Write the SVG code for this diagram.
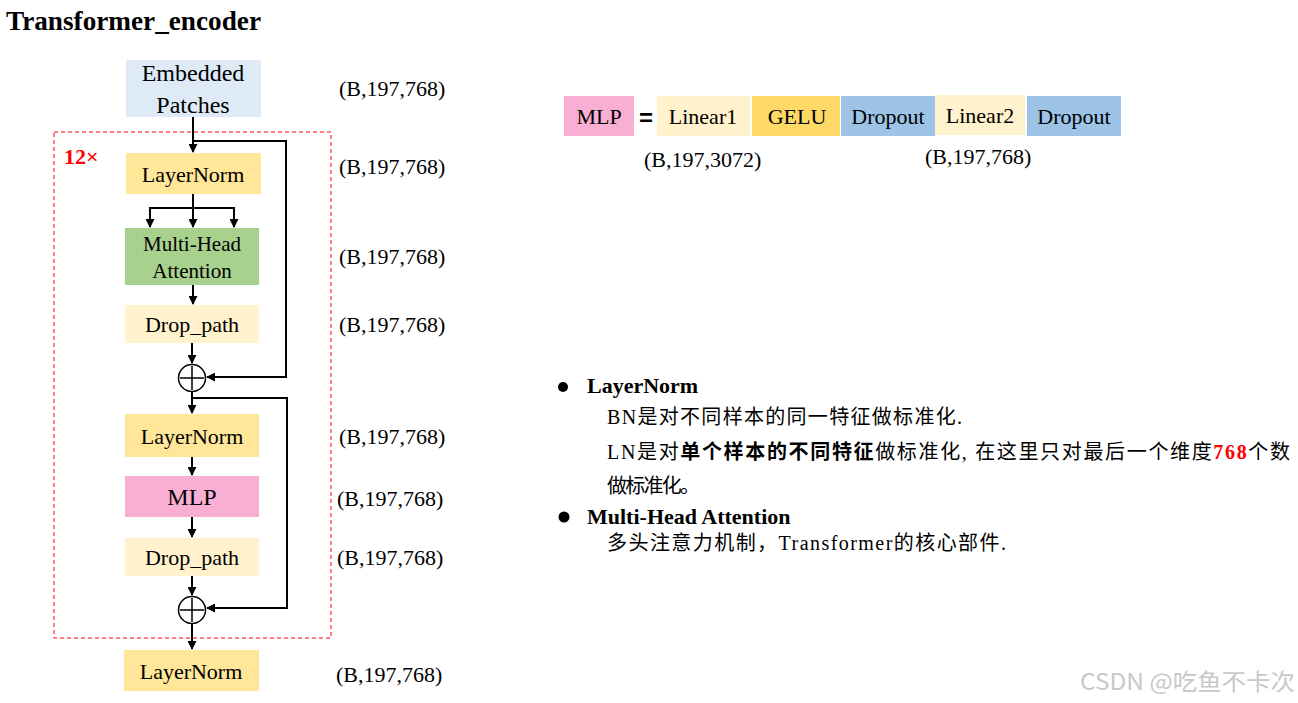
<svg xmlns="http://www.w3.org/2000/svg" width="1298" height="703" viewBox="0 0 1298 703">
<defs>
<marker id="ah" viewBox="0 0 10 10" refX="9" refY="5" markerWidth="4.5" markerHeight="4.5" orient="auto" markerUnits="strokeWidth">
<path d="M0,0 L10,5 L0,10 z" fill="#000"/>
</marker>
<style>
.t{font-family:"Liberation Serif","Times New Roman",serif;font-size:22px;fill:#000}
.c{text-anchor:middle}
.b{font-weight:bold}
.cn{font-family:"Liberation Serif","Noto Sans CJK SC",serif;font-size:20px;fill:#000}
.ln{fill:none;stroke:#000;stroke-width:2}
.ar{fill:none;stroke:#000;stroke-width:2;marker-end:url(#ah)}
</style>
</defs>
<rect width="1298" height="703" fill="#fff"/>
<text class="t b" x="6" y="30" style="font-size:27px" textLength="255" lengthAdjust="spacingAndGlyphs">Transformer_encoder</text>

<rect x="54" y="132" width="277" height="506" fill="none" stroke="#f00" stroke-width="1" stroke-dasharray="4,3"/>
<text class="t b" x="64" y="164" style="font-size:22px;fill:#f00">12×</text>

<g id="embedded"><rect x="126" y="60" width="135" height="57" fill="#DEEBF7"/>
<text class="t c" x="193" y="81" style="font-size:24px">Embedded</text><text class="t c" x="193" y="113" style="font-size:24px">Patches</text></g>
<g id="ln1"><rect x="126" y="153" width="135" height="41" fill="#FFE699"/><text class="t c" x="193" y="182">LayerNorm</text></g>
<g id="mha"><rect x="125" y="228" width="134" height="57" fill="#A9D18E"/>
<text class="t c" x="192" y="251" style="font-size:21px">Multi-Head</text><text class="t c" x="192" y="278" style="font-size:21px">Attention</text></g>
<g id="drop1"><rect x="125" y="305" width="134" height="38" fill="#FFF2CC"/><text class="t c" x="192" y="332">Drop_path</text></g>
<g id="add1"><circle cx="192" cy="378" r="13.5" fill="#fff" stroke="#000" stroke-width="1.5"/><path d="M180,378 H204 M192,366 V390" stroke="#000" stroke-width="1.5"/></g>
<g id="ln2"><rect x="125" y="414" width="134" height="43" fill="#FFE699"/><text class="t c" x="192" y="444">LayerNorm</text></g>
<g id="mlp"><rect x="125" y="476" width="134" height="41" fill="#F9AFD3"/><text class="t c" x="192" y="505" style="font-size:24px">MLP</text></g>
<g id="drop2"><rect x="125" y="538" width="134" height="38" fill="#FFF2CC"/><text class="t c" x="192" y="565">Drop_path</text></g>
<g id="add2"><circle cx="192" cy="610" r="13.5" fill="#fff" stroke="#000" stroke-width="1.5"/><path d="M180,610 H204 M192,598 V622" stroke="#000" stroke-width="1.5"/></g>
<g id="ln3"><rect x="124" y="650" width="135" height="41" fill="#FFE699"/><text class="t c" x="191" y="679">LayerNorm</text></g>

<g id="connectors">
<line class="ar" x1="193" y1="117" x2="193" y2="152"/>
<polyline class="ar" points="193,141 286,141 286,377 207,377"/>
<line class="ln" x1="193" y1="194" x2="193" y2="208"/>
<line class="ln" x1="149" y1="208" x2="235" y2="208"/>
<line class="ar" x1="150" y1="207" x2="150" y2="227"/>
<line class="ar" x1="193" y1="207" x2="193" y2="227"/>
<line class="ar" x1="234" y1="207" x2="234" y2="227"/>
<line class="ar" x1="193" y1="285" x2="193" y2="304"/>
<line class="ar" x1="192" y1="343" x2="192" y2="363"/>
<line class="ar" x1="192" y1="391.5" x2="192" y2="413"/>
<polyline class="ar" points="192,398 287,398 287,608 207,608"/>
<line class="ar" x1="192" y1="457" x2="192" y2="475"/>
<line class="ar" x1="192" y1="517" x2="192" y2="537"/>
<line class="ar" x1="192" y1="576" x2="192" y2="595"/>
<line class="ar" x1="192" y1="623.5" x2="192" y2="649"/>
</g>

<g id="shapes">
<text class="t" x="339" y="96">(B,197,768)</text>
<text class="t" x="339" y="174">(B,197,768)</text>
<text class="t" x="339" y="264">(B,197,768)</text>
<text class="t" x="339" y="332">(B,197,768)</text>
<text class="t" x="339" y="444">(B,197,768)</text>
<text class="t" x="337" y="506">(B,197,768)</text>
<text class="t" x="337" y="565">(B,197,768)</text>
<text class="t" x="336" y="682">(B,197,768)</text>
</g>

<g id="mlp-def">
<rect x="564" y="96" width="70" height="40" fill="#F9AFD3"/><text class="t c" x="599" y="124">MLP</text>
<text x="646" y="126" style="font-family:'Liberation Sans',Arial,sans-serif;font-weight:bold;font-size:24px" text-anchor="middle">=</text>
<rect x="657" y="96" width="93" height="40" fill="#FFF2CC"/><text class="t c" x="703" y="124">Linear1</text>
<rect x="752" y="96" width="88" height="40" fill="#FFD966"/><text class="t c" x="797" y="124">GELU</text>
<rect x="841" y="96" width="94" height="40" fill="#9DC3E6"/><text class="t c" x="888" y="124">Dropout</text>
<rect x="935" y="95" width="90" height="40" fill="#FFF2CC"/><text class="t c" x="980" y="123">Linear2</text>
<rect x="1027" y="96" width="94" height="40" fill="#9DC3E6"/><text class="t c" x="1074" y="124">Dropout</text>
<text class="t" x="644" y="167">(B,197,3072)</text>
<text class="t" x="925" y="164">(B,197,768)</text>
</g>

<g id="notes">
<circle cx="563" cy="387" r="5" fill="#000"/>
<text class="t b" x="587" y="393">LayerNorm</text>
<text class="cn" x="607" y="424" textLength="355" lengthAdjust="spacing">BN是对不同样本的同一特征做标准化.</text>
<text class="cn" x="607" y="459" textLength="683" lengthAdjust="spacing">LN是对<tspan class="b">单个样本的不同特征</tspan>做标准化, 在这里只对最后一个维度<tspan class="b" style="fill:#f00;font-family:'Liberation Serif',serif">768</tspan>个数</text>
<text class="cn" x="607" y="493" textLength="93" lengthAdjust="spacing">做标准化。</text>
<circle cx="564" cy="517" r="5.5" fill="#000"/>
<text class="t b" x="587" y="524">Multi-Head Attention</text>
<text class="cn" x="607" y="550" textLength="399" lengthAdjust="spacing">多头注意力机制，Transformer的核心部件.</text>
</g>

<text x="1080" y="690" style="font-family:'Noto Sans CJK SC','Liberation Sans',sans-serif;font-size:23px;fill:#c8c8c8" textLength="215" lengthAdjust="spacingAndGlyphs">CSDN @吃鱼不卡次</text>
</svg>
